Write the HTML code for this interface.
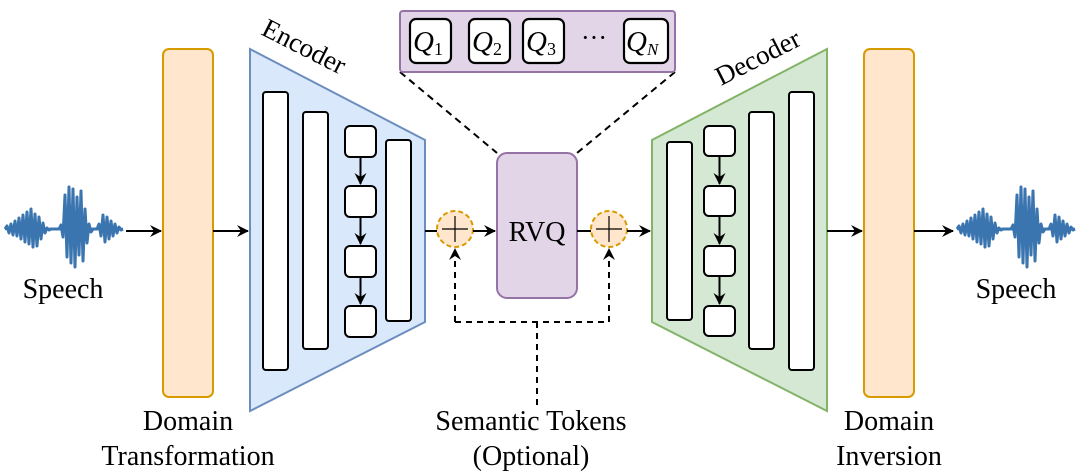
<!DOCTYPE html>
<html><head><meta charset="utf-8"><style>
html,body{margin:0;padding:0;background:#fff;}
svg{display:block;}
text{font-family:"Liberation Serif",serif;fill:#000;}
</style></head><body>
<svg width="1080" height="474" viewBox="0 0 1080 474" xmlns="http://www.w3.org/2000/svg">
<defs>
<marker id="ah" markerWidth="14" markerHeight="14" refX="11" refY="6" orient="auto" markerUnits="userSpaceOnUse">
<path d="M0,0 L12,6 L0,12 L4,6 Z" fill="#000"/></marker>
<g id="wave">
<path d="M0,0 L2,-3 4,4 6,-5 8,6 10,-8 12,7 14,-11 16,10 18,-14 20,13 22,-17 24,15 26,-20 28,18 30,-15 32,17 34,-12 36,10 38,-6 40,4 42,-1 44,1 46,0 54,0 56,-4 58,8 60,-34 62,28 64,-42 66,34 68,-40 70,38 72,-32 74,26 76,-38 78,32 80,-20 82,14 84,-5 86,3 88,0 92,0 94,-5 96,7 98,-14 100,13 102,-12 104,10 106,-8 108,7 110,-5 112,4 114,-2 116,1 118,0" fill="none" stroke="#3a75b0" stroke-width="3" stroke-linejoin="round"/>
<path d="M0,0 H118" stroke="#3a75b0" stroke-width="2.5"/>
</g>
</defs>

<use href="#wave" x="5" y="229"/>
<use href="#wave" x="957" y="229"/>
<line x1="126" y1="231" x2="161" y2="231" stroke="#000" stroke-width="2" marker-end="url(#ah)"/>

<rect x="163" y="49" width="50" height="348" rx="6" fill="#ffe6cc" stroke="#d79b00" stroke-width="2"/>
<line x1="213" y1="231" x2="248" y2="231" stroke="#000" stroke-width="2" marker-end="url(#ah)"/>

<polygon points="250,49 425,140 425,322 250,411" fill="#dae8fc" stroke="#6c8ebf" stroke-width="2"/>
<g fill="#fff" stroke="#000" stroke-width="2">
<rect x="263" y="92" width="25" height="278" rx="3"/>
<rect x="303" y="112" width="25" height="237" rx="3"/>
<rect x="386" y="140" width="25" height="181" rx="3"/>
<rect x="345" y="126" width="31" height="31" rx="5"/>
<rect x="345" y="186" width="31" height="31" rx="5"/>
<rect x="345" y="246" width="31" height="31" rx="5"/>
<rect x="345" y="306" width="31" height="31" rx="5"/>
</g>
<g stroke="#000" stroke-width="2" marker-end="url(#ah)">
<line x1="360.5" y1="157" x2="360.5" y2="184"/>
<line x1="360.5" y1="217" x2="360.5" y2="244"/>
<line x1="360.5" y1="277" x2="360.5" y2="304"/>
</g>
<text x="0" y="0" font-size="27" transform="translate(260,34) rotate(27)">Encoder</text>

<line x1="425" y1="231" x2="437" y2="231" stroke="#000" stroke-width="2"/>
<circle cx="455" cy="229" r="18" fill="#ffe6cc" stroke="#d79b00" stroke-width="2" stroke-dasharray="5,3"/>
<path d="M455,216 V242 M442,229 H468" stroke="#000" stroke-width="1.2"/>
<line x1="473" y1="231" x2="495" y2="231" stroke="#000" stroke-width="2" marker-end="url(#ah)"/>

<rect x="497" y="153" width="80" height="145" rx="10" fill="#e1d5e7" stroke="#9673a6" stroke-width="2"/>
<text x="537" y="241" font-size="28" text-anchor="middle">RVQ</text>

<line x1="400" y1="72" x2="497" y2="153" stroke="#000" stroke-width="2" stroke-dasharray="7,5"/>
<line x1="675" y1="72" x2="577" y2="153" stroke="#000" stroke-width="2" stroke-dasharray="7,5"/>
<rect x="400" y="11" width="275" height="61" rx="3" fill="#e1d5e7" stroke="#9673a6" stroke-width="2"/>
<g fill="#fff" stroke="#000" stroke-width="2.2">
<rect x="410" y="19" width="41" height="44" rx="6"/>
<rect x="469" y="19" width="41" height="44" rx="6"/>
<rect x="523" y="19" width="41" height="44" rx="6"/>
<rect x="624" y="19" width="44" height="44" rx="6"/>
</g>
<g font-size="29" font-style="italic">
<text x="413" y="51">Q<tspan font-size="18" font-style="normal" dy="4">1</tspan></text>
<text x="472" y="51">Q<tspan font-size="18" font-style="normal" dy="4">2</tspan></text>
<text x="526" y="51">Q<tspan font-size="18" font-style="normal" dy="4">3</tspan></text>
<text x="626" y="51">Q<tspan font-size="17" dy="4">N</tspan></text>
</g>
<text x="594" y="46" font-size="26" text-anchor="middle">···</text>

<line x1="577" y1="231" x2="591" y2="231" stroke="#000" stroke-width="2"/>
<circle cx="609" cy="229" r="18" fill="#ffe6cc" stroke="#d79b00" stroke-width="2" stroke-dasharray="5,3"/>
<path d="M609,216 V242 M596,229 H622" stroke="#000" stroke-width="1.2"/>
<line x1="627" y1="231" x2="650" y2="231" stroke="#000" stroke-width="2" marker-end="url(#ah)"/>

<g stroke="#000" stroke-width="2" stroke-dasharray="6,5" fill="none">
<path d="M455,322 V249" marker-end="url(#ah)"/>
<path d="M609,322 V249" marker-end="url(#ah)"/>
<path d="M455,322 H609"/>
<path d="M537,322 V405"/>
</g>

<polygon points="652,140 827,49 827,411 652,322" fill="#d5e8d4" stroke="#82b366" stroke-width="2"/>
<g fill="#fff" stroke="#000" stroke-width="2">
<rect x="667" y="142" width="25" height="178" rx="3"/>
<rect x="749" y="112" width="25" height="237" rx="3"/>
<rect x="789" y="92" width="25" height="278" rx="3"/>
<rect x="704" y="126" width="31" height="30" rx="5"/>
<rect x="704" y="186" width="31" height="30" rx="5"/>
<rect x="704" y="246" width="31" height="30" rx="5"/>
<rect x="704" y="306" width="31" height="30" rx="5"/>
</g>
<g stroke="#000" stroke-width="2" marker-end="url(#ah)">
<line x1="719.5" y1="156" x2="719.5" y2="184"/>
<line x1="719.5" y1="216" x2="719.5" y2="244"/>
<line x1="719.5" y1="276" x2="719.5" y2="304"/>
</g>
<text x="0" y="0" font-size="27" transform="translate(721,86) rotate(-27)">Decoder</text>

<line x1="827" y1="231" x2="862" y2="231" stroke="#000" stroke-width="2" marker-end="url(#ah)"/>
<rect x="864" y="49" width="50" height="348" rx="6" fill="#ffe6cc" stroke="#d79b00" stroke-width="2"/>
<line x1="914" y1="231" x2="953" y2="231" stroke="#000" stroke-width="2" marker-end="url(#ah)"/>

<g font-size="28" text-anchor="middle">
<text x="63" y="298">Speech</text>
<text x="1016" y="298">Speech</text>
<text x="188" y="430">Domain</text>
<text x="188" y="465">Transformation</text>
<text x="531" y="430">Semantic Tokens</text>
<text x="531" y="465">(Optional)</text>
<text x="889" y="430">Domain</text>
<text x="889" y="465">Inversion</text>
</g>
</svg>
</body></html>
